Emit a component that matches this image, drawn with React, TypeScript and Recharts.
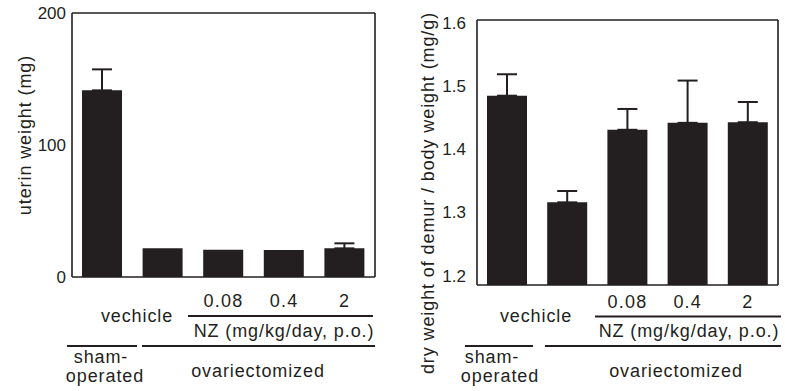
import React from "react";
import { BarChart, Bar, XAxis, YAxis, ErrorBar } from "recharts";

const groups = ["sham", "vehicle", "nz-0.08", "nz-0.4", "nz-2"];
const doseLabels = ["", "", "0.08", "0.4", "2"];

const uterineWeight = [141.4, 21.7, 20.7, 20.5, 21.7];
const uterineSem: (number | null)[] = [15.9, null, null, null, 3.8];
const uterineTicks = [0, 100, 200];

const femurRatio = [1.485, 1.316, 1.431, 1.442, 1.443];
const femurSem: (number | null)[] = [0.034, 0.018, 0.033, 0.067, 0.032];
const femurTicks = [1.2, 1.3, 1.4, 1.5, 1.6];

const FONT = '"Liberation Sans", Arial, Helvetica, sans-serif';
const INK = "#231f20";

// error bars only go upward, so the lower bound is 0
const uterineData = groups.map((g, i) => ({
  group: g,
  value: uterineWeight[i],
  err: uterineSem[i] == null ? null : [0, uterineSem[i]],
}));

const femurData = groups.map((g, i) => ({
  group: g,
  value: femurRatio[i],
  err: femurSem[i] == null ? null : [0, femurSem[i]],
}));

type PanelProps = {
  data: { group: string; value: number; err: (number | null)[] | null }[];
  ticks: number[];
  domain: [number, number];
  left: number;
  margin: { top: number; right: number; bottom: number; left: number };
  yWidth: number;
  yTickMargin: number;
  xTickMargin: number;
};

function Panel({ data, ticks, domain, left, margin, yWidth, yTickMargin, xTickMargin }: PanelProps) {
  const axisStroke = { stroke: INK, strokeWidth: 1.6 };
  return (
    <div style={{ position: "absolute", left, top: 0 }}>
      <BarChart width={390} height={391} data={data} margin={margin}>
        <XAxis
          dataKey="group"
          axisLine={axisStroke}
          tickLine={false}
          tickSize={0}
          tickMargin={xTickMargin}
          height={30}
          interval={0}
          tickFormatter={(_v: string, i: number) => doseLabels[i]}
          tick={{ fill: INK, fontSize: 18, fontFamily: FONT, letterSpacing: 1.2 }}
        />
        <XAxis
          xAxisId="top"
          orientation="top"
          dataKey="group"
          height={1}
          tick={false}
          tickLine={false}
          axisLine={axisStroke}
        />
        <YAxis
          type="number"
          domain={domain}
          ticks={ticks}
          width={yWidth}
          axisLine={axisStroke}
          tickLine={false}
          tickSize={0}
          tickMargin={yTickMargin}
          allowDataOverflow
          tick={{ fill: INK, fontSize: 17, fontFamily: FONT }}
        />
        <YAxis
          yAxisId="right"
          orientation="right"
          type="number"
          domain={domain}
          width={1}
          tick={false}
          tickLine={false}
          axisLine={axisStroke}
        />
        <Bar dataKey="value" fill={INK} barSize={40} isAnimationActive={false}>
          <ErrorBar dataKey="err" width={10} stroke={INK} strokeWidth={2} isAnimationActive={false} />
        </Bar>
      </BarChart>
    </div>
  );
}

const textStyle: React.CSSProperties = {
  fontFamily: FONT,
  fontSize: 18,
  letterSpacing: 0.9,
  fill: INK,
};

function Labels() {
  const line = { stroke: INK, strokeWidth: 1.8 };
  return (
    <svg
      width={785}
      height={391}
      style={{ position: "absolute", left: 0, top: 0, pointerEvents: "none" }}
    >
      <g style={textStyle} textAnchor="middle" dominantBaseline="central">
        <text transform="translate(25,135) rotate(-90)">uterin weight (mg)</text>
        <text transform="translate(428,193) rotate(-90)">dry weight of demur / body weight (mg/g)</text>

        <text x={137} y={316}>vechicle</text>
        <text x={284} y={331}>NZ (mg/kg/day, p.o.)</text>
        <text x={101} y={357}>sham-</text>
        <text x={105} y={376}>operated</text>
        <text x={258} y={371}>ovariectomized</text>

        <text x={536} y={316}>vechicle</text>
        <text x={689} y={331}>NZ (mg/kg/day, p.o.)</text>
        <text x={492} y={357}>sham-</text>
        <text x={500} y={376}>operated</text>
        <text x={676} y={371}>ovariectomized</text>
      </g>
      <line x1={188} y1={316} x2={373} y2={316} {...line} />
      <line x1={67} y1={346} x2={137} y2={346} {...line} />
      <line x1={142} y1={346} x2={375} y2={346} {...line} />
      <line x1={595} y1={316.5} x2={781} y2={316.5} {...line} />
      <line x1={465} y1={346} x2={533} y2={346} {...line} />
      <line x1={545} y1={346} x2={781} y2={346} {...line} />
    </svg>
  );
}

export default function App() {
  return (
    <div
      style={{
        position: "absolute",
        left: 0,
        top: 0,
        width: 785,
        height: 391,
        background: "#fff",
        overflow: "hidden",
      }}
    >
      <Panel
        data={uterineData}
        ticks={uterineTicks}
        domain={[0, 200]}
        left={0}
        margin={{ top: 12, right: 14, bottom: 84, left: 0 }}
        yWidth={72}
        yTickMargin={6}
        xTickMargin={17}
      />
      <Panel
        data={femurData}
        ticks={femurTicks}
        domain={[1.185, 1.605]}
        left={395}
        margin={{ top: 19, right: 6, bottom: 76, left: 0 }}
        yWidth={82}
        yTickMargin={11}
        xTickMargin={10}
      />
      <Labels />
    </div>
  );
}
